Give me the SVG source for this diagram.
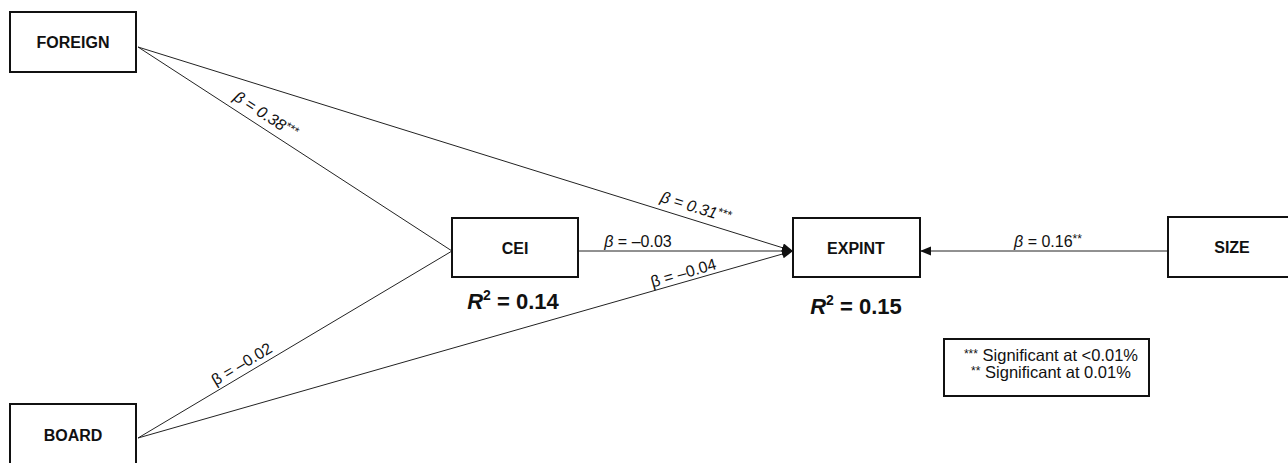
<svg xmlns="http://www.w3.org/2000/svg" width="1288" height="463" viewBox="0 0 1288 463">
<style>
.box{fill:#fff;stroke:#111;stroke-width:2}
.nt{font-family:"Liberation Sans",Arial,sans-serif;font-weight:bold;font-size:16px;text-anchor:middle;fill:#111}
.lbl{font-family:"Liberation Sans",Arial,sans-serif;font-size:16px;fill:#111;text-anchor:middle}
.it{font-style:italic}
.sup{font-size:12px}
.r2{font-family:"Liberation Sans",Arial,sans-serif;font-weight:bold;font-size:22px;fill:#111;text-anchor:middle}
.ln{stroke:#222;stroke-width:1;fill:none}
.leg{font-family:"Liberation Sans",Arial,sans-serif;font-size:16.5px;fill:#111;text-anchor:middle}
</style>
<defs>
<marker id="ah" markerWidth="12" markerHeight="10" refX="11" refY="4.5" orient="auto" markerUnits="userSpaceOnUse">
<path d="M0,0 L11,4.5 L0,9 z" fill="#111"/>
</marker>
</defs>
<g id="connectors">
<line class="ln" x1="138" y1="47" x2="452" y2="251"/>
<line class="ln" x1="138" y1="438" x2="452" y2="251"/>
<line class="ln" x1="138" y1="47" x2="793" y2="251" marker-end="url(#ah)"/>
<line class="ln" x1="578" y1="251" x2="793" y2="251" marker-end="url(#ah)"/>
<line class="ln" x1="138" y1="438" x2="793" y2="251" marker-end="url(#ah)"/>
<line class="ln" x1="1168" y1="251" x2="920" y2="251" marker-end="url(#ah)"/>
</g>
<g id="labels">
<text class="lbl it" transform="translate(259,125) rotate(33)" y="-7">β = 0.38<tspan class="sup" dy="-4">***</tspan></text>
<text class="lbl it" transform="translate(692,219) rotate(17.3)" y="-7">β = 0.31<tspan class="sup" dy="-4">***</tspan></text>
<text class="lbl" x="638" y="247"><tspan class="it">β</tspan> = –0.03</text>
<text class="lbl" transform="translate(686,282) rotate(-15.9)" y="-4">β = –0.04</text>
<text class="lbl" transform="translate(247,373) rotate(-30.8)" y="-5">β = –0.02</text>
<text class="lbl" x="1048" y="247"><tspan class="it">β</tspan> = 0.16<tspan class="sup" dy="-4">**</tspan></text>
</g>
<g id="FOREIGN">
<rect class="box" x="10" y="12" width="126" height="60"/>
<text class="nt" x="73" y="48">FOREIGN</text>
</g>
<g id="BOARD">
<rect class="box" x="10" y="404" width="126" height="62"/>
<text class="nt" x="73" y="441">BOARD</text>
</g>
<g id="CEI">
<rect class="box" x="452" y="218" width="126" height="59"/>
<text class="nt" x="515" y="254">CEI</text>
<text class="r2" x="513" y="309"><tspan font-style="italic">R</tspan><tspan font-size="14" dy="-9">2</tspan><tspan dy="9"> = 0.14</tspan></text>
</g>
<g id="EXPINT">
<rect class="box" x="793" y="218" width="127" height="59"/>
<text class="nt" x="856" y="254">EXPINT</text>
<text class="r2" x="856" y="314"><tspan font-style="italic">R</tspan><tspan font-size="14" dy="-9">2</tspan><tspan dy="9"> = 0.15</tspan></text>
</g>
<g id="SIZE">
<rect class="box" x="1168" y="217" width="128" height="60"/>
<text class="nt" x="1232" y="253">SIZE</text>
</g>
<g id="legend">
<rect class="box" x="944" y="339" width="205" height="57"/>
<text class="leg" x="1051" y="361"><tspan class="sup" dy="-3">***</tspan><tspan dy="3"> Significant at &lt;0.01%</tspan></text>
<text class="leg" x="1051" y="378"><tspan class="sup" dy="-3">**</tspan><tspan dy="3"> Significant at 0.01%</tspan></text>
</g>
</svg>
